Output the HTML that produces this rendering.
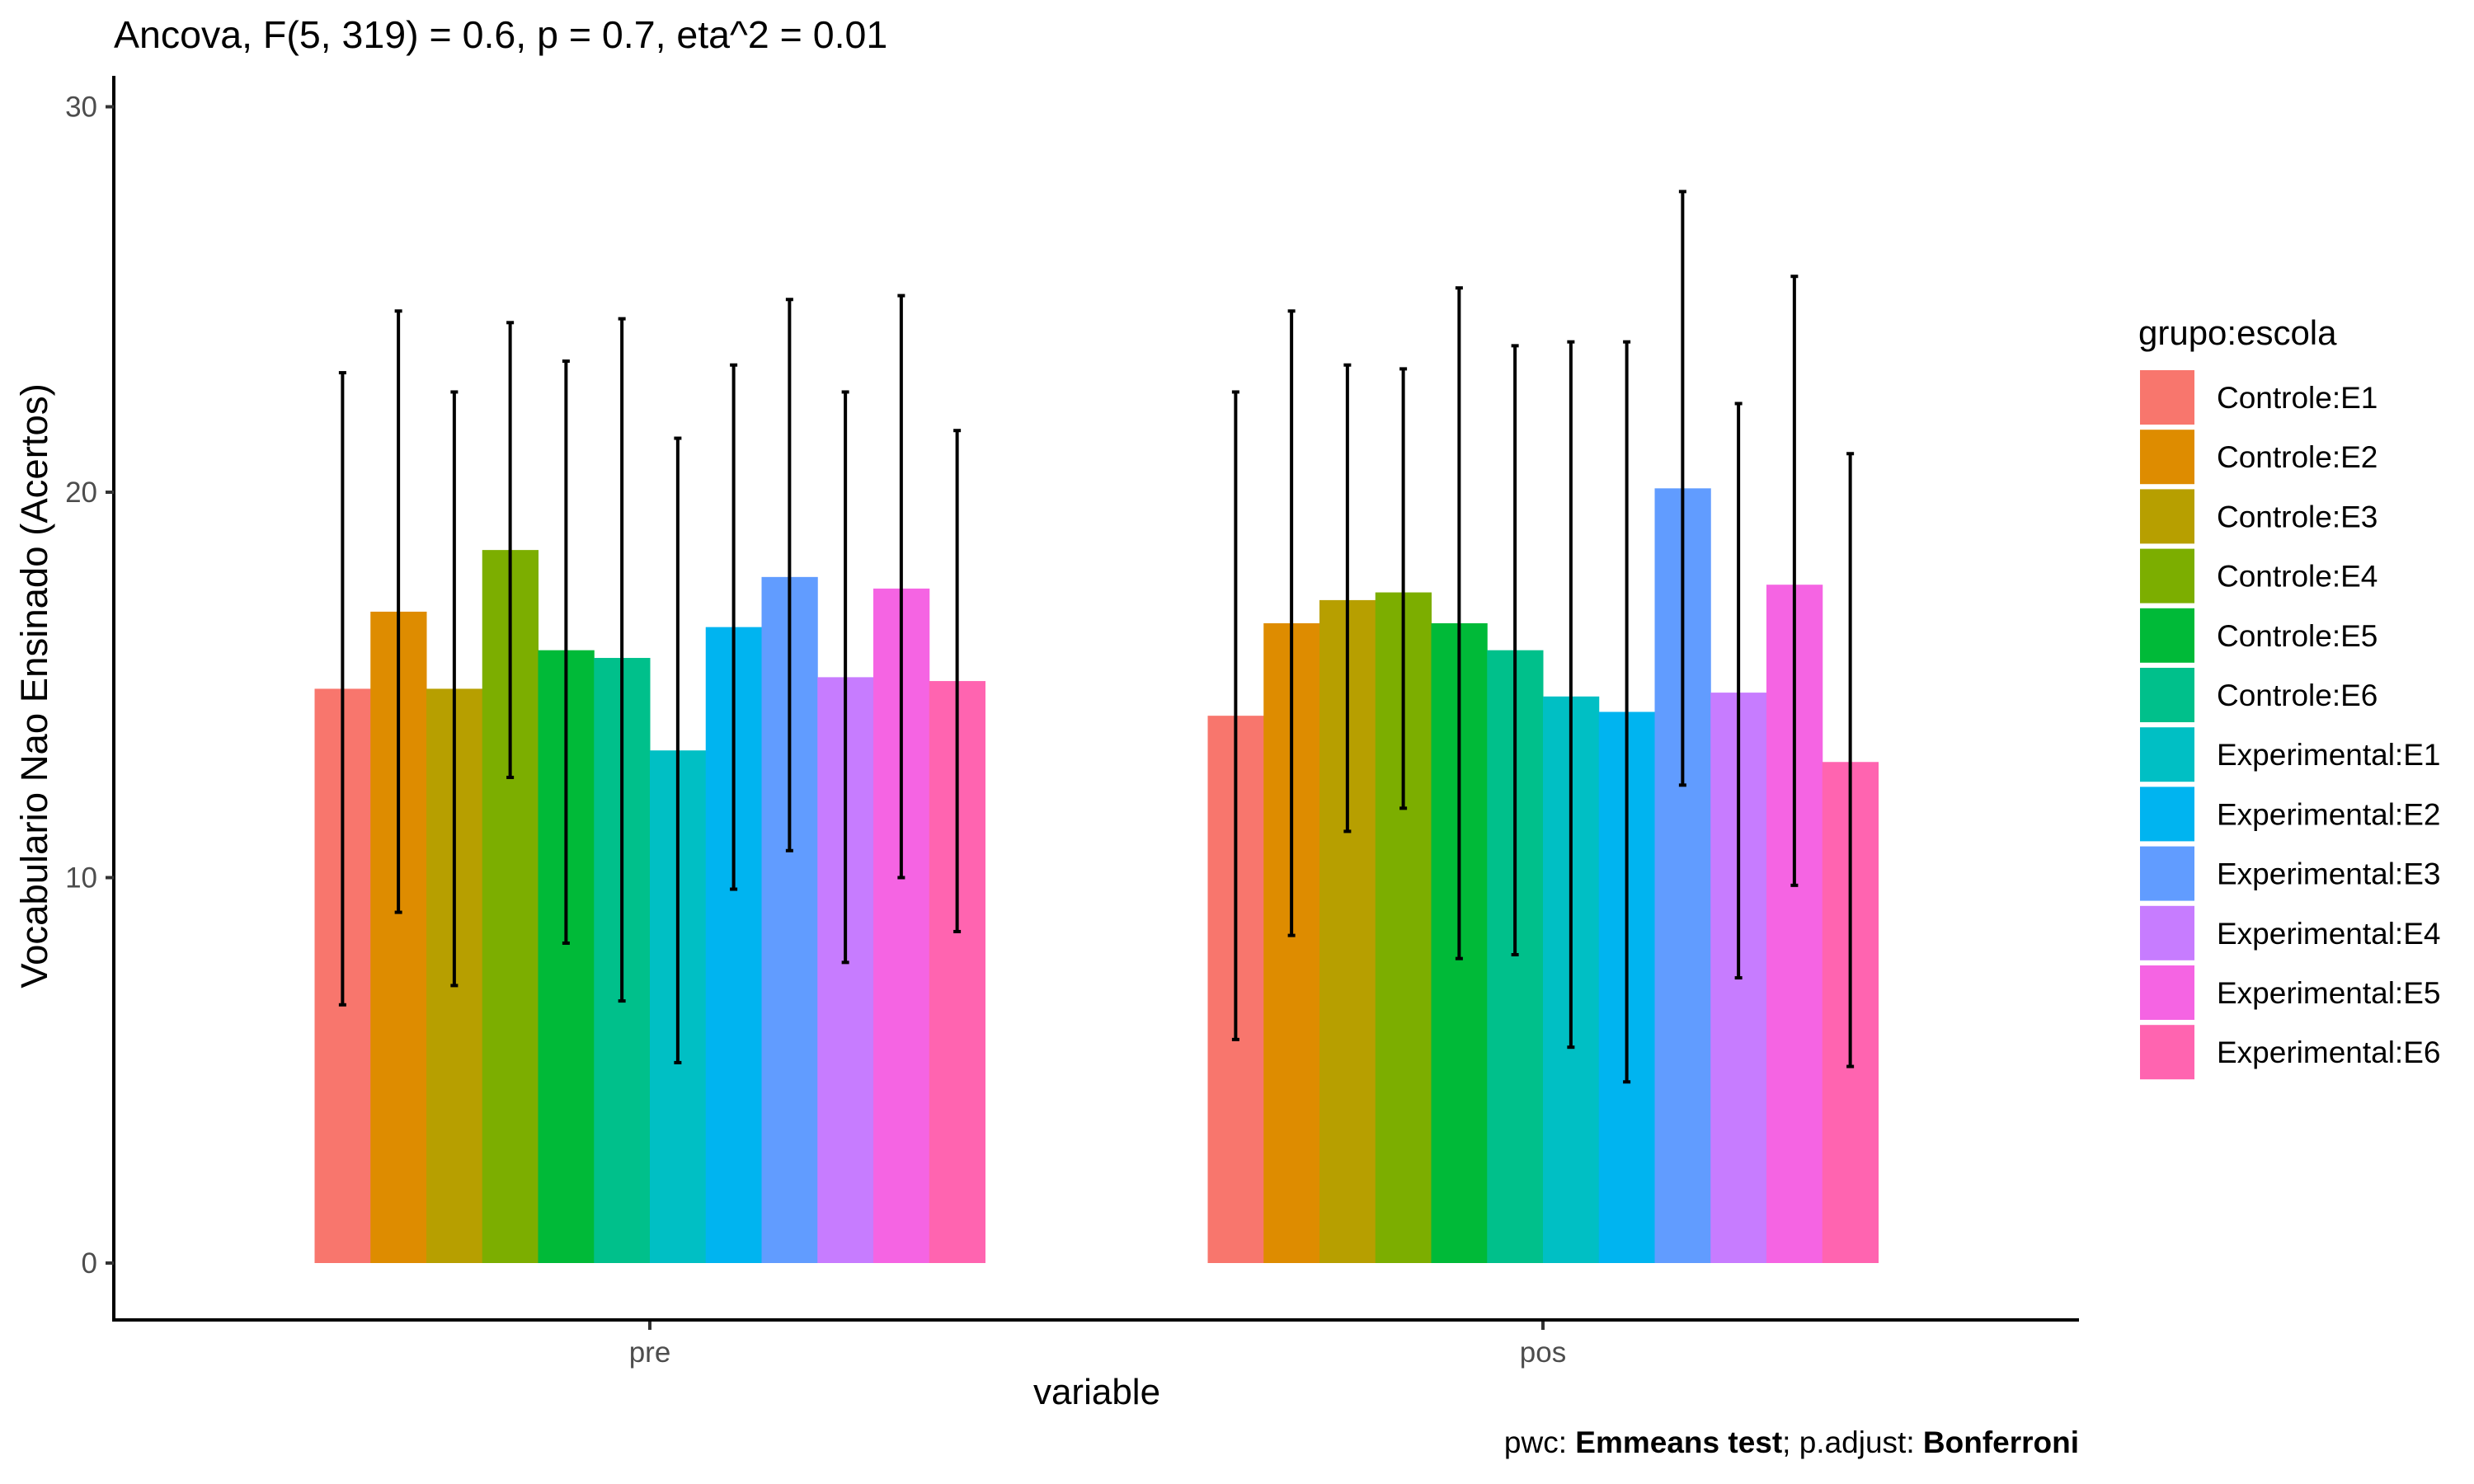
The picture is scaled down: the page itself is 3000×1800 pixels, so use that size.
<!DOCTYPE html>
<html><head><meta charset="utf-8"><style>
html,body{margin:0;padding:0;background:#fff;}
svg{display:block;font-family:"Liberation Sans",Arial,sans-serif;}
</style></head><body>
<svg id="chart" width="3000" height="1800" viewBox="0 0 3000 1800">
<text x="138" y="58" font-size="46.5" fill="#000">Ancova, F(5, 319) = 0.6, p = 0.7, eta^2 = 0.01</text>
<g id="bars"></g>
<g id="errs"></g>
<line x1="138" y1="92" x2="138" y2="1603" stroke="#000" stroke-width="4"/>
<line x1="136" y1="1601" x2="2521" y2="1601" stroke="#000" stroke-width="4"/>
<g id="yticks"></g>
<g id="xticks"></g>
<text x="1330" y="1703" font-size="44" text-anchor="middle" fill="#000">variable</text>
<text transform="translate(57,832) rotate(-90)" font-size="45.5" text-anchor="middle" fill="#000">Vocabulario Nao Ensinado (Acertos)</text>
<text x="2521" y="1762" font-size="37" text-anchor="end" fill="#000">pwc: <tspan font-weight="bold">Emmeans test</tspan>; p.adjust: <tspan font-weight="bold">Bonferroni</tspan></text>
<text x="2593" y="418" font-size="42" fill="#000">grupo:escola</text>
<g id="legend"></g>
</svg>
<script>
const categories = ["pre", "pos"];
const groups = ["Controle:E1","Controle:E2","Controle:E3","Controle:E4","Controle:E5","Controle:E6","Experimental:E1","Experimental:E2","Experimental:E3","Experimental:E4","Experimental:E5","Experimental:E6"];
const colors = ["#F8766D","#DE8C00","#B79F00","#7CAE00","#00BA38","#00C08B","#00BFC4","#00B4F0","#619CFF","#C77CFF","#F564E3","#FF64B0"];
const preMean = [14.9,16.9,14.9,18.5,15.9,15.7,13.3,16.5,17.8,15.2,17.5,15.1];
const preHigh = [23.1,24.7,22.6,24.4,23.4,24.5,21.4,23.3,25.0,22.6,25.1,21.6];
const preLow  = [6.7,9.1,7.2,12.6,8.3,6.8,5.2,9.7,10.7,7.8,10.0,8.6];
const posMean = [14.2,16.6,17.2,17.4,16.6,15.9,14.7,14.3,20.1,14.8,17.6,13.0];
const posHigh = [22.6,24.7,23.3,23.2,25.3,23.8,23.9,23.9,27.8,22.3,25.6,21.0];
const posLow  = [5.8,8.5,11.2,11.8,7.9,8.0,5.6,4.7,12.4,7.4,9.8,5.1];
const yTicks = [0,10,20,30];

const NS = "http://www.w3.org/2000/svg";
const y = v => 1532 - v * 46.75;
const catX = i => 788 + i * 1083;
const groupW = 813, barW = groupW / 12;
const mk = (tag, attrs, parent) => { const e = document.createElementNS(NS, tag); for (const k in attrs) e.setAttribute(k, attrs[k]); parent.appendChild(e); return e; };
const bars = document.getElementById('bars'), errs = document.getElementById('errs');
const means = [preMean, posMean], highs = [preHigh, posHigh], lows = [preLow, posLow];
categories.forEach((c, ci) => {
  const x0 = catX(ci) - groupW / 2;
  groups.forEach((g, gi) => {
    const bx = x0 + gi * barW;
    const r = mk('rect', {x: bx, y: y(means[ci][gi]), width: barW + 0.5, height: y(0) - y(means[ci][gi]), fill: colors[gi]}, bars);
    
    
    const cx = bx + barW / 2;
    const eg = mk('g', {stroke: '#000', 'stroke-width': 4}, errs);
    
    
    mk('line', {x1: cx, x2: cx, y1: y(highs[ci][gi]), y2: y(lows[ci][gi])}, eg);
    mk('line', {x1: cx - 4.5, x2: cx + 4.5, y1: y(highs[ci][gi]), y2: y(highs[ci][gi])}, eg);
    mk('line', {x1: cx - 4.5, x2: cx + 4.5, y1: y(lows[ci][gi]), y2: y(lows[ci][gi])}, eg);
  });
});
const yt = document.getElementById('yticks');
yTicks.forEach(t => {
  mk('line', {x1: 128, x2: 138, y1: y(t), y2: y(t), stroke: '#333', 'stroke-width': 4}, yt);
  const tx = mk('text', {x: 118, y: y(t) + 12, 'font-size': 35, 'text-anchor': 'end', fill: '#4d4d4d'}, yt);
  tx.textContent = t;
  
  
});
const xt = document.getElementById('xticks');
categories.forEach((c, ci) => {
  mk('line', {x1: catX(ci), x2: catX(ci), y1: 1603, y2: 1613, stroke: '#333', 'stroke-width': 4}, xt);
  const tx = mk('text', {x: catX(ci), y: 1652, 'font-size': 35, 'text-anchor': 'middle', fill: '#4d4d4d'}, xt);
  tx.textContent = c;
  
  
});
const lg = document.getElementById('legend');
groups.forEach((g, gi) => {
  const top = 449 + gi * 72.2;
  const eg = mk('g', {}, lg);
  
  
  mk('rect', {x: 2595, y: top, width: 66, height: 66, fill: colors[gi]}, eg);
  const tx = mk('text', {x: 2688, y: top + 46, 'font-size': 37, fill: '#000'}, eg);
  tx.textContent = g;
});
</script>
</body></html>
